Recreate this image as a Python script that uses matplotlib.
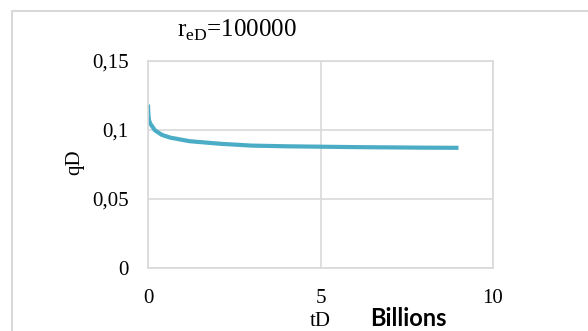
import matplotlib
matplotlib.use("Agg")
import matplotlib.pyplot as plt
from matplotlib.lines import Line2D

# Dimensionless rate qD versus dimensionless time tD (billions)
t_billions = [0.0, 0.005, 0.015, 0.03, 0.07, 0.2, 0.4, 0.64, 1.2, 2.1,
              3.0, 4.0, 5.0, 6.0, 7.0, 8.0, 9.0]
q_d = [0.1184, 0.114, 0.110, 0.107, 0.1045, 0.0998, 0.0965, 0.0945, 0.0919,
       0.0900, 0.0887, 0.0882, 0.0879, 0.0876, 0.0874, 0.0872, 0.0871]

x_ticks = [0, 5, 10]
x_tick_labels = ["0", "5", "10"]
y_ticks = [0, 0.05, 0.1, 0.15]
y_tick_labels = ["0", "0,05", "0,1", "0,15"]

W, H = 588, 331
DPI = 100
SERIF = "Liberation Serif"
GRID = "#d9d9d9"
LINE = "#4bacc6"

plt.rcParams["mathtext.fontset"] = "custom"
plt.rcParams["mathtext.rm"] = SERIF

fig = plt.figure(figsize=(W / DPI, H / DPI), dpi=DPI)
fig.patch.set_facecolor("white")


def fx(px):
    return px / W


def fy(py):
    return 1 - py / H


# outer chart frame (left and top edges)
fig.add_artist(Line2D([fx(12), fx(12), 1.0], [0.0, fy(11), fy(11)],
                      transform=fig.transFigure, color=GRID, lw=1.5))

ax = fig.add_axes([fx(148), fy(268), fx(493) - fx(148), fy(61) - fy(268)])
ax.plot(t_billions, q_d, color=LINE, lw=3.0, solid_capstyle="butt",
        solid_joinstyle="round")

ax.set_xlim(0, 10)
ax.set_ylim(0, 0.15)
ax.set_xticks(x_ticks)
ax.set_xticklabels(x_tick_labels)
ax.set_yticks(y_ticks)
ax.set_yticklabels(y_tick_labels)
ax.tick_params(length=0, labelsize=15)
ax.tick_params(axis="y", pad=14)
ax.tick_params(axis="x", pad=15)
for lbl in ax.get_xticklabels() + ax.get_yticklabels():
    lbl.set_fontfamily(SERIF)

ax.grid(True, color=GRID, lw=1.2)
ax.set_axisbelow(True)
for sp in ax.spines.values():
    sp.set_color(GRID)
    sp.set_linewidth(1.2)

# title and axis labels
fig.text(fx(177), fy(37), r"r$_{\mathrm{eD}}$=100000", fontsize=18,
         family=SERIF, ha="left", va="baseline")
fig.text(fx(75), fy(162), "qD", fontsize=15, family=SERIF, rotation=90,
         ha="center", va="center")
fig.text(fx(320), fy(325.7), "tD", fontsize=15, family=SERIF,
         ha="center", va="baseline")
fig.text(fx(370), fy(325.7), "Billions", fontsize=17, family="Lato",
         fontweight="bold", ha="left", va="baseline")

fig.savefig("out.png", dpi=DPI, facecolor="white")
